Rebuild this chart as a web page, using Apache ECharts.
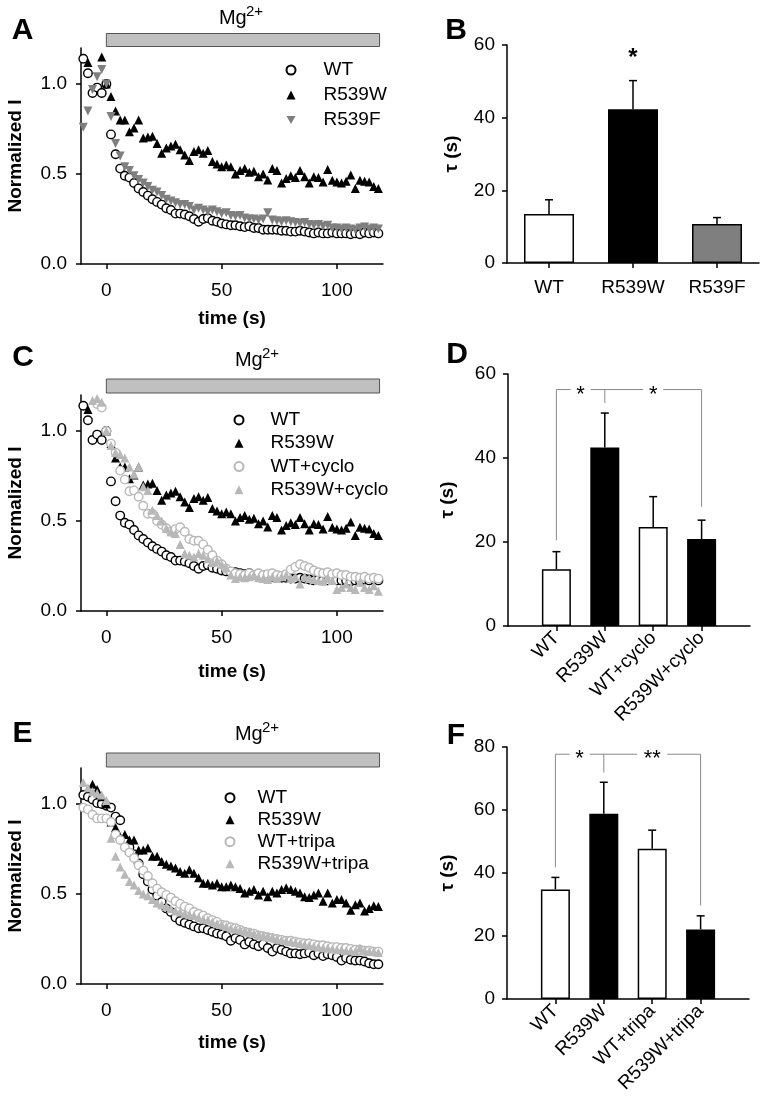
<!DOCTYPE html>
<html><head><meta charset="utf-8">
<script src="https://cdn.jsdelivr.net/npm/echarts@6/dist/echarts.min.js"></script>
<style>html,body{margin:0;padding:0;background:#fff}#c{width:765px;height:1106px}</style>
</head><body><div id="c"></div>
<script>
// ---------- DATA ----------
const time = [-10,-8,-6,-4,-2,0,2,4,6,8,10,12,14,16,18,20,22,24,26,28,30,32,34,36,38,40,42,44,46,48,50,52,54,56,58,60,62,64,66,68,70,72,74,76,78,80,82,84,86,88,90,92,94,96,98,100,102,104,106,108,110,112,114,116,118];
const timeTicks = [0,50,100];
const normTicks = [0,0.5,1.0];

const WT = [1.14,1.06,0.95,0.98,0.95,1.00,0.72,0.61,0.53,0.49,
  0.48,0.45,0.42,0.40,0.38,0.36,0.345,0.33,0.31,0.30,
  0.28,0.28,0.275,0.265,0.25,0.235,0.25,0.255,0.24,0.235,
  0.225,0.22,0.215,0.215,0.21,0.205,0.21,0.20,0.20,0.19,
  0.19,0.19,0.19,0.185,0.185,0.18,0.18,0.185,0.18,0.175,
  0.17,0.175,0.17,0.17,0.175,0.17,0.17,0.17,0.165,0.17,
  0.165,0.175,0.17,0.175,0.17];
const R539W = [null,1.12,null,null,1.15,1.00,0.93,0.85,0.80,0.80,
  0.735,0.755,0.80,0.70,0.705,0.71,0.67,0.615,0.645,0.655,
  0.665,0.635,0.605,0.575,0.625,0.635,0.615,0.63,0.57,0.555,
  0.54,0.55,0.54,0.50,0.52,0.53,0.51,0.515,0.485,0.50,
  0.467,0.53,0.52,0.45,0.475,0.49,0.48,0.52,0.485,0.45,
  0.485,0.48,0.455,0.525,0.465,0.455,0.45,0.46,0.495,0.42,
  0.465,0.46,0.455,0.43,0.42];
const R539F = [0.76,0.85,0.97,1.04,1.08,1.00,0.82,0.67,0.60,0.54,
  0.52,0.49,0.47,0.45,0.43,0.41,0.40,0.38,0.36,0.35,
  0.34,0.33,0.33,0.32,0.30,0.31,0.30,0.29,0.30,0.29,
  0.28,0.285,0.27,0.265,0.27,0.255,0.25,0.25,0.245,0.25,
  0.285,0.245,0.24,0.235,0.24,0.235,0.23,0.225,0.23,0.22,
  0.215,0.22,0.21,0.215,0.20,0.20,0.195,0.20,0.195,0.19,
  0.20,0.205,0.195,0.20,0.195];
const WT_cyclo = [null,null,null,1.15,1.13,1.00,0.93,0.88,0.78,0.73,
  0.665,0.67,0.635,0.585,0.54,0.54,0.50,0.48,0.46,0.44,
  0.455,0.465,0.44,0.40,0.39,0.39,0.37,0.34,0.31,0.28,
  0.26,0.235,0.22,0.21,0.205,0.20,0.21,0.20,0.21,0.20,
  0.205,0.21,0.20,0.195,0.205,0.23,0.245,0.26,0.25,0.24,
  0.225,0.215,0.21,0.215,0.205,0.21,0.20,0.20,0.19,0.19,
  0.185,0.19,0.18,0.185,0.18];
const R539W_cyclo = [null,null,1.17,1.18,1.16,1.00,0.92,0.88,0.87,0.85,
  0.80,0.76,0.80,0.69,0.67,0.56,0.53,0.50,0.46,0.44,
  0.43,0.37,0.32,0.31,0.30,0.32,0.31,0.29,0.27,0.28,
  0.26,0.24,0.20,0.18,0.19,0.185,0.19,0.20,0.185,0.18,
  0.175,0.19,0.18,0.19,0.20,0.18,0.19,0.15,0.19,0.18,
  0.175,0.17,0.165,0.18,0.17,0.12,0.13,0.15,0.13,0.12,
  0.16,0.13,0.12,0.14,0.11];
const WT_E = [1.05,1.04,1.025,1.005,1.00,0.99,0.98,0.93,0.91,0.80,
  0.76,0.72,0.67,0.61,0.57,0.525,0.49,0.455,0.42,0.40,
  0.37,0.35,0.34,0.33,0.32,0.31,0.31,0.30,0.29,0.28,
  0.275,0.265,0.24,0.255,0.245,0.22,0.235,0.22,0.21,0.22,
  0.20,0.18,0.20,0.19,0.18,0.17,0.17,0.165,0.17,0.175,
  0.16,0.17,0.155,0.165,0.16,0.15,0.13,0.145,0.135,0.13,
  0.13,0.125,0.115,0.11,0.11];
const R539W_E = [null,null,1.11,1.08,1.04,1.00,0.90,0.87,0.82,0.83,
  0.80,0.80,0.745,0.745,0.755,0.71,0.71,0.68,0.665,0.655,
  0.645,0.625,0.615,0.635,0.615,0.59,0.56,0.56,0.55,0.56,
  0.54,0.54,0.55,0.54,0.53,0.505,0.515,0.525,0.495,0.515,
  0.485,0.515,0.505,0.525,0.535,0.525,0.515,0.505,0.485,0.48,
  0.495,0.505,0.46,0.505,0.45,0.47,0.47,0.45,0.41,0.44,
  0.45,0.405,0.42,0.435,0.43];
const WT_tripa = [0.98,0.97,0.94,0.92,0.92,0.92,0.90,0.83,0.80,0.76,
  0.73,0.70,0.66,0.63,0.60,0.56,0.53,0.51,0.495,0.48,
  0.46,0.445,0.43,0.42,0.40,0.39,0.38,0.365,0.355,0.345,
  0.33,0.325,0.315,0.31,0.30,0.29,0.285,0.28,0.27,0.265,
  0.26,0.255,0.25,0.245,0.24,0.24,0.235,0.23,0.225,0.225,
  0.22,0.215,0.215,0.21,0.205,0.205,0.20,0.20,0.195,0.19,
  0.19,0.185,0.185,0.18,0.18];
const R539W_tripa = [1.12,1.09,1.07,1.06,1.05,1.02,0.81,0.71,0.65,0.61,
  0.57,0.55,0.52,0.50,0.49,0.47,0.45,0.44,0.43,0.42,
  0.405,0.40,0.39,0.385,0.38,0.37,0.36,0.355,0.345,0.335,
  0.33,0.32,0.31,0.305,0.30,0.295,0.29,0.28,0.275,0.27,
  0.265,0.26,0.25,0.245,0.24,0.235,0.23,0.225,0.22,0.215,
  0.21,0.205,0.20,0.20,0.195,0.19,0.19,0.185,0.185,0.18,
  0.20,0.185,0.18,0.18,0.175];

const mgStart = 0, mgEnd = 118.5;

const catsB = ['WT','R539W','R539F'];
const tauB = [13.5, 42.3, 10.7];
const tauB_up = [17.4, 50.2, 12.5];
const starB = 57.8;

const catsD = ['WT','R539W','WT+cyclo','R539W+cyclo'];
const tauD = [13.5, 42.5, 23.6, 20.7];
const tauD_up = [17.7, 50.7, 30.8, 25.2];
const bracketD = {top: 56.3, drops: [20.4, 53.1, 28.4], stars: ['*','*']};

const catsF = ['WT','R539W','WT+tripa','R539W+tripa'];
const tauF = [34.8, 58.8, 47.7, 22.1];
const tauF_up = [38.6, 68.8, 53.6, 26.4];
const bracketF = {top: 77.7, drops: [41.8, 71.9, 29.7], stars: ['*','**']};

// ---------- STYLE / LAYOUT ----------
const FONT = '"Liberation Sans", Arial, sans-serif';
const LIGHT = '#b8b8b8';
const MID = '#7f7f7f';
const DOWN_TRI = 'path://M0,0 L10,0 L5,9 Z';

const chart = echarts.init(document.getElementById('c'), null, {renderer:'canvas'});

const grids = [
  {left:81, top:48, width:302, height:216},   // A
  {left:507, top:45, width:252, height:218},  // B
  {left:81, top:395, width:302, height:216},  // C
  {left:508, top:374, width:242, height:252}, // D
  {left:81, top:768, width:302, height:216},  // E
  {left:507, top:747, width:242, height:252}  // F
];

const axisLineStyle = {show:true, onZero:false, lineStyle:{color:'#000', width:1.5}};
const tickStyle = {show:true, length:5, lineStyle:{color:'#000', width:1.5}};
const lblStyle = {color:'#000', fontSize:19, fontFamily:FONT};
const nameStyle = {color:'#000', fontSize:19, fontWeight:'bold', fontFamily:FONT};

function timeXAxis(gi, gap) {
  return {type:'value', gridIndex:gi, min:-11, max:120,
    axisLine:axisLineStyle, splitLine:{show:false},
    axisTick:Object.assign({customValues:timeTicks}, tickStyle),
    axisLabel:Object.assign({customValues:timeTicks, margin:17}, lblStyle),
    name:'time (s)', nameLocation:'middle', nameGap:gap, nameTextStyle:nameStyle};
}
function normYAxis(gi) {
  return {type:'value', gridIndex:gi, min:0, max:1.2,
    axisLine:axisLineStyle, splitLine:{show:false},
    axisTick:Object.assign({customValues:normTicks}, tickStyle),
    axisLabel:Object.assign({customValues:normTicks, margin:14, formatter:v=>v.toFixed(1)}, lblStyle),
    name:'Normalized I', nameLocation:'middle', nameGap:56, nameTextStyle:nameStyle};
}
function tauYAxis(gi, max, gap) {
  return {type:'value', gridIndex:gi, min:0, max:max, interval:20,
    axisLine:axisLineStyle, splitLine:{show:false},
    axisTick:tickStyle,
    axisLabel:Object.assign({margin:12}, lblStyle),
    name:'τ (s)', nameLocation:'middle', nameGap:gap, nameTextStyle:nameStyle};
}
function padCats(c) { return [''].concat(c, ['']); }
function catXAxis4(gi, cats) {
  return {type:'category', gridIndex:gi, data:padCats(cats), boundaryGap:false,
    axisLine:axisLineStyle,
    axisTick:Object.assign({interval:(i)=> i>=1 && i<=cats.length}, tickStyle),
    axisLabel:Object.assign({interval:0, rotate:45, margin:9}, lblStyle)};
}

function pts(arr) {
  const out = [];
  time.forEach((t,i)=>{ if (arr[i] !== null) out.push([t, arr[i]]); });
  return out;
}
function scat(name, gi, arr, sym, fill, stroke) {
  return {type:'scatter', name:name, xAxisIndex:gi, yAxisIndex:gi, data:pts(arr),
    symbol:sym, symbolSize: stroke ? 8.5 : 9, silent:true,
    itemStyle:{color:fill, borderColor:stroke, borderWidth: stroke ? 1.4 : 0, opacity:1}};
}
function bars(gi, vals, fills, offset, width) {
  return {type:'bar', xAxisIndex:gi, yAxisIndex:gi, barWidth:width, z:3, silent:true,
    data: vals.map((v,i)=>({value:[i+offset, v], itemStyle:{color:fills[i], borderColor:'#000', borderWidth:1.5}}))};
}
function errs(gi, vals, ups, offset) {
  return {type:'custom', xAxisIndex:gi, yAxisIndex:gi, z:2, silent:true,
    encode:{x:0, y:1},
    data: vals.map((v,i)=>[i+offset, v, ups[i]]),
    renderItem(params, api) {
      const p0 = api.coord([api.value(0), api.value(1)]);
      const p1 = api.coord([api.value(0), api.value(2)]);
      const st = {stroke:'#000', lineWidth:1.5};
      return {type:'group', children:[
        {type:'line', shape:{x1:p0[0], y1:p0[1], x2:p1[0], y2:p1[1]}, style:st},
        {type:'line', shape:{x1:p1[0]-4, y1:p1[1], x2:p1[0]+4, y2:p1[1]}, style:st}
      ]};
    }};
}

function legend(data, left, top, lh, pad) {
  return {orient:'vertical', itemWidth:9, itemHeight:9, itemGap:0, selectedMode:false,
    data:data, left:left, top:top,
    textStyle:{color:'#000', fontSize:19, fontFamily:FONT, lineHeight:lh, padding:[0,0,0,pad]}};
}

const option = {
  backgroundColor:'#fff',
  animation:false,
  grid: grids.map(g=>Object.assign({containLabel:false}, g)),
  xAxis: [
    timeXAxis(0, 45),
    {type:'category', gridIndex:1, data:catsB, boundaryGap:true,
      axisLine:axisLineStyle, axisTick:Object.assign({alignWithLabel:true}, tickStyle),
      axisLabel:Object.assign({interval:0, margin:15}, lblStyle)},
    timeXAxis(2, 51),
    catXAxis4(3, catsD),
    timeXAxis(4, 49),
    catXAxis4(5, catsF)
  ],
  yAxis: [
    normYAxis(0),
    tauYAxis(1, 60, 46),
    normYAxis(2),
    tauYAxis(3, 60, 51),
    normYAxis(4),
    tauYAxis(5, 80, 50)
  ],
  legend: [
    legend(['WT','R539W','R539F'], 280.5, 52.5, 25, 23),
    legend(['WT','R539W','WT+cyclo','R539W+cyclo'], 228.5, 403.3, 23.3, 22),
    legend(['WT','R539W','WT+tripa','R539W+tripa'], 219.5, 781.7, 22, 18)
  ],
  series: [
    scat('WT', 0, WT, 'circle', '#fff', '#000'),
    scat('R539W', 0, R539W, 'triangle', '#000', null),
    scat('R539F', 0, R539F, DOWN_TRI, MID, null),
    errs(1, tauB, tauB_up, 0),
    bars(1, tauB, ['#fff','#000',MID], 0, 50),
    scat('WT', 2, WT, 'circle', '#fff', '#000'),
    scat('R539W', 2, R539W, 'triangle', '#000', null),
    scat('WT+cyclo', 2, WT_cyclo, 'circle', '#fff', LIGHT),
    scat('R539W+cyclo', 2, R539W_cyclo, 'triangle', LIGHT, null),
    errs(3, tauD, tauD_up, 1),
    bars(3, tauD, ['#fff','#000','#fff','#000'], 1, 29),
    scat('WT', 4, WT_E, 'circle', '#fff', '#000'),
    scat('R539W', 4, R539W_E, 'triangle', '#000', null),
    scat('WT+tripa', 4, WT_tripa, 'circle', '#fff', LIGHT),
    scat('R539W+tripa', 4, R539W_tripa, 'triangle', LIGHT, null),
    errs(5, tauF, tauF_up, 1),
    bars(5, tauF, ['#fff','#000','#fff','#000'], 1, 29)
  ]
};
chart.setOption(option);

// ---------- ANNOTATIONS (positioned through the chart's own scales) ----------
const g = [];
function txt(x, y, s, font, align, va) {
  g.push({type:'text', x:x, y:y, z:100, style:{text:s, font:font, fill:'#000', align:align||'center', verticalAlign:va||'middle'}});
}
const LF = 'bold 30px ' + FONT;
txt(22.5, 31, 'A', LF); txt(456, 31, 'B', LF);
txt(23, 358, 'C', LF); txt(457, 355, 'D', LF);
txt(22.5, 734, 'E', LF); txt(456, 736, 'F', LF);

[[0, 33.5, 13, 28.5],[2, 379, 14, 370],[4, 753, 14, 744]].forEach(([gi, y, h, base])=>{
  const x0 = chart.convertToPixel({gridIndex:gi}, [mgStart, 0])[0];
  const x1 = chart.convertToPixel({gridIndex:gi}, [mgEnd, 0])[0];
  g.push({type:'rect', z:100, shape:{x:x0, y:y, width:x1-x0, height:h}, style:{fill:'#c0c0c0', stroke:'#555', lineWidth:1}});
  const tx = (x0 + x1)/2 + (gi === 0 ? -24 : -8);
  g.push({type:'text', z:100, x:tx, y:base, style:{text:'Mg', font:'20px ' + FONT, fill:'#000', align:'left', verticalAlign:'bottom'}});
  g.push({type:'text', z:100, x:tx + 27, y:base - 9, style:{text:'2+', font:'15px ' + FONT, fill:'#000', align:'left', verticalAlign:'bottom'}});
});

const pB = chart.convertToPixel({gridIndex:1}, [1, starB]);
txt(pB[0], pB[1] + 5, '*', 'bold 24px ' + FONT);

function bracket(gi, br, gaps) {
  const P = (i, v) => chart.convertToPixel({gridIndex:gi}, [i, v]);
  const a = P(1, br.drops[0]), aT = P(1, br.top);
  const b = P(2, br.drops[1]), bT = P(2, br.top);
  const c = P(4, br.drops[2]), cT = P(4, br.top);
  const s1 = (aT[0] + bT[0]) / 2, s2 = (bT[0] + cT[0]) / 2;
  const st = {stroke:'#8a8a8a', lineWidth:1, fill:null};
  const yT = aT[1];
  const lines = [
    [[a[0], a[1]], [a[0], yT], [s1 - gaps[0], yT]],
    [[s1 + gaps[0], yT], [s2 - gaps[1], yT]],
    [[b[0], yT], [b[0], b[1]]],
    [[s2 + gaps[1], yT], [c[0], yT], [c[0], c[1]]]
  ];
  lines.forEach(pl => g.push({type:'polyline', z:100, shape:{points:pl}, style:st}));
  txt(s1, yT + 5, br.stars[0], '22px ' + FONT);
  txt(s2, yT + 5, br.stars[1], '22px ' + FONT);
}
bracket(3, bracketD, [10, 10]);
bracket(5, bracketF, [10, 15]);

chart.setOption({graphic: g});
</script>
</body></html>
